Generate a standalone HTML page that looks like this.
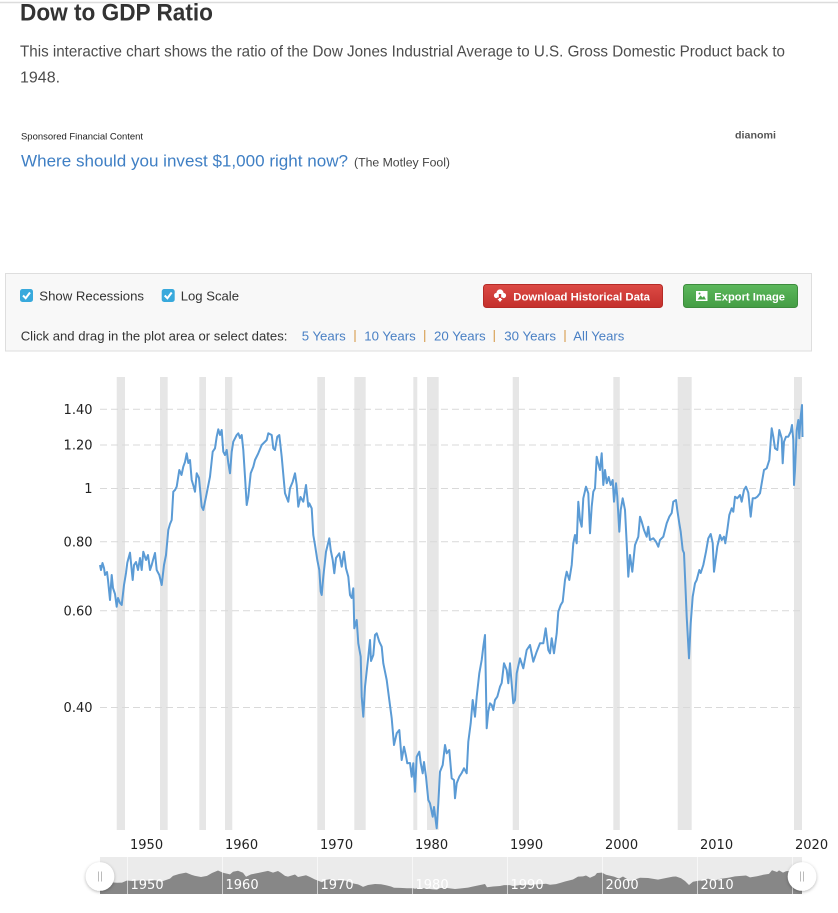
<!DOCTYPE html>
<html><head><meta charset="utf-8"><style>
html,body{margin:0;padding:0;background:#fff;}
svg{display:block;}
text{font-family:"Liberation Sans",Arial,sans-serif;}
.ax text{font-family:"DejaVu Sans",Verdana,sans-serif;font-size:13px;fill:#222;}
.nav text{font-family:"DejaVu Sans",Verdana,sans-serif;font-size:13px;fill:#fff;}
</style></head><body>
<svg width="838" height="913" viewBox="0 0 838 913" xmlns="http://www.w3.org/2000/svg">
<defs>
<linearGradient id="gr" x1="0" y1="0" x2="0" y2="1"><stop offset="0" stop-color="#dc4a45"/><stop offset="1" stop-color="#c4302c"/></linearGradient>
<linearGradient id="gg" x1="0" y1="0" x2="0" y2="1"><stop offset="0" stop-color="#5cb85c"/><stop offset="1" stop-color="#449d44"/></linearGradient>
<filter id="sh" x="-50%" y="-50%" width="200%" height="200%"><feDropShadow dx="0" dy="1" stdDeviation="1.5" flood-color="#000" flood-opacity="0.3"/></filter>
</defs>
<rect x="0" y="0" width="838" height="913" fill="#fff"/>
<line x1="0" y1="2.5" x2="838" y2="2.5" stroke="#dcdcdc" stroke-width="1.5"/>
<text x="20" y="20.7" font-size="24.5" font-weight="bold" fill="#333" textLength="193" lengthAdjust="spacingAndGlyphs">Dow to GDP Ratio</text>
<text x="20" y="56.7" font-size="16" fill="#4d4d4d" textLength="765" lengthAdjust="spacingAndGlyphs">This interactive chart shows the ratio of the Dow Jones Industrial Average to U.S. Gross Domestic Product back to</text>
<text x="20" y="82.3" font-size="16" fill="#4d4d4d">1948.</text>
<text x="21" y="139.5" font-size="9.4" fill="#222" textLength="122" lengthAdjust="spacingAndGlyphs">Sponsored Financial Content</text>
<text x="735" y="138.5" font-size="10.5" font-weight="bold" fill="#555" textLength="41" lengthAdjust="spacingAndGlyphs">dianomi</text>
<text x="21" y="166.5" font-size="17" fill="#3f7fc4" textLength="327" lengthAdjust="spacingAndGlyphs">Where should you invest $1,000 right now?</text>
<text x="354" y="166.5" font-size="12.2" fill="#444" textLength="96" lengthAdjust="spacingAndGlyphs">(The Motley Fool)</text>

<!-- controls -->
<rect x="5.5" y="273.5" width="806" height="77.5" fill="#f8f8f8" stroke="#dedede"/>
<rect x="20" y="289" width="13" height="13" rx="2.5" fill="#38a9dc"/>
<polyline points="23,295.5 25.7,298.2 30,292.5" fill="none" stroke="#fff" stroke-width="2"/>
<text x="39.3" y="300.5" font-size="13.2" fill="#333" textLength="104.7" lengthAdjust="spacingAndGlyphs">Show Recessions</text>
<rect x="161.7" y="289" width="13" height="13" rx="2.5" fill="#38a9dc"/>
<polyline points="164.7,295.5 167.4,298.2 171.7,292.5" fill="none" stroke="#fff" stroke-width="2"/>
<text x="180.7" y="300.5" font-size="13.2" fill="#333" textLength="58.3" lengthAdjust="spacingAndGlyphs">Log Scale</text>
<rect x="483.5" y="284.5" width="179" height="23" rx="3" fill="url(#gr)" stroke="#b52b27"/>
<circle cx="500" cy="293" r="3.6" fill="#fff"/><circle cx="496.5" cy="295.5" r="2.6" fill="#fff"/><circle cx="503.5" cy="295.5" r="2.6" fill="#fff"/>
<rect x="496.5" y="294" width="7" height="4" fill="#fff"/>
<polygon points="498.8,294 501.2,294 501.2,297.5 503,297.5 500,301.5 497,297.5 498.8,297.5" fill="#d03a36"/>
<polygon points="498.9,298 501.1,298 501.1,299 502.5,299 500,302 497.5,299 498.9,299" fill="#fff"/>
<text x="513.3" y="300.3" font-size="11.3" font-weight="bold" fill="#fff" textLength="136.7" lengthAdjust="spacingAndGlyphs">Download Historical Data</text>
<rect x="683.5" y="284.5" width="114" height="23" rx="3" fill="url(#gg)" stroke="#3d8b3d"/>
<rect x="696" y="291" width="11.5" height="10" fill="#fff"/>
<polygon points="697.5,299.5 700.5,295.5 702.5,297.5 704,296 706,299.5" fill="#4aa64a"/>
<circle cx="699.5" cy="293.5" r="1" fill="#4aa64a"/>
<text x="714.3" y="300.3" font-size="11.3" font-weight="bold" fill="#fff" textLength="70.7" lengthAdjust="spacingAndGlyphs">Export Image</text>
<text x="20.7" y="340.5" font-size="13.2" fill="#333" textLength="266.7" lengthAdjust="spacingAndGlyphs">Click and drag in the plot area or select dates:</text>
<g font-size="13.2" fill="#4a80c4">
<text x="301.7" y="340.5" textLength="44" lengthAdjust="spacingAndGlyphs">5 Years</text>
<text x="364.3" y="340.5" textLength="51.4" lengthAdjust="spacingAndGlyphs">10 Years</text>
<text x="434" y="340.5" textLength="51.7" lengthAdjust="spacingAndGlyphs">20 Years</text>
<text x="504.3" y="340.5" textLength="51.7" lengthAdjust="spacingAndGlyphs">30 Years</text>
<text x="573.3" y="340.5" textLength="51" lengthAdjust="spacingAndGlyphs">All Years</text>
</g>
<g stroke="#d9a35a" stroke-width="1.2">
<line x1="355" y1="330" x2="355" y2="342"/><line x1="424.7" y1="330" x2="424.7" y2="342"/><line x1="494.3" y1="330" x2="494.3" y2="342"/><line x1="565" y1="330" x2="565" y2="342"/>
</g>

<!-- recession bands -->
<g fill="#e6e6e6">
<rect x="116.7" y="377" width="8.3" height="453"/>
<rect x="160" y="377" width="7.7" height="453"/>
<rect x="199.3" y="377" width="6.7" height="453"/>
<rect x="225" y="377" width="7.3" height="453"/>
<rect x="317.3" y="377" width="7.7" height="453"/>
<rect x="354.3" y="377" width="11.4" height="453"/>
<rect x="413.3" y="377" width="4" height="453"/>
<rect x="427" y="377" width="11.7" height="453"/>
<rect x="512.7" y="377" width="6.3" height="453"/>
<rect x="613.3" y="377" width="6.5" height="453"/>
<rect x="677.7" y="377" width="14" height="453"/>
<rect x="794" y="377" width="8" height="453"/>
</g>
<!-- grid -->
<g stroke="#d9d9d9" stroke-width="1" stroke-dasharray="7,4">
<line x1="100" y1="409.3" x2="802" y2="409.3"/>
<line x1="100" y1="445" x2="802" y2="445"/>
<line x1="100" y1="488.5" x2="802" y2="488.5"/>
<line x1="100" y1="541.7" x2="802" y2="541.7"/>
<line x1="100" y1="610.7" x2="802" y2="610.7"/>
<line x1="100" y1="707.5" x2="802" y2="707.5"/>
</g>
<g class="ax" text-anchor="end">
<text x="92.5" y="414">1.40</text>
<text x="92.5" y="449.7">1.20</text>
<text x="92.5" y="493.2">1</text>
<text x="92.5" y="546.4">0.80</text>
<text x="92.5" y="615.4">0.60</text>
<text x="92.5" y="712.2">0.40</text>
</g>
<g class="ax">
<text x="130" y="849">1950</text>
<text x="225" y="849">1960</text>
<text x="320" y="849">1970</text>
<text x="415" y="849">1980</text>
<text x="510" y="849">1990</text>
<text x="605" y="849">2000</text>
<text x="700" y="849">2010</text>
<text x="795" y="849">2020</text>
</g>
<!-- series -->
<polyline fill="none" stroke="#5b9bd5" stroke-width="2" stroke-linejoin="round" points="100,565 101,570 102.5,563 104,568 105,575 107,572 108,580 110,600 111.7,575 113,588 115,594 116.7,606.7 118,598 120,603 121.7,605 124,585 126,573 127.3,562.7 130,552.7 131.5,568 132.7,580 134,565 136,562 138,570 140,558 141.7,570 143.3,551.7 146,560 148,555 150,570 151.7,565 153,560 155,553 156.7,570 159.3,575 161.7,585 164,565 166,555 168.3,530 170,524 171.7,520 173.3,491.7 175,490 176.7,486.7 179.3,470 181.5,475 183.3,466.7 185,462 186.7,453.3 188.3,463 190,460 191.7,480 193.5,486 195,491.7 196.7,473.3 199,478 201.7,506.7 203.3,510 206.7,493.3 210,476.7 212.7,451.7 215,448.3 216.7,436.7 218.3,429.3 220,435 221.7,430 223.3,451.7 225,455 226.7,450 228.3,463 230,473.3 231.7,451.7 233.3,441.7 236.7,435 238.3,433.3 240,438 241.7,435 243.3,450 245,476.7 246.7,505 248.3,496.7 250.7,473.3 253.3,466.7 255,460 258.3,453.3 261.7,445 266.7,440 268.3,433.3 271.7,435 273.3,448.3 275,450 277.3,436.7 279.3,435 281.7,456.7 285,493.3 288.3,501.7 290,488.3 292.7,481.7 295,473.3 296.7,485 298.3,506.7 300.5,497 303.3,501.7 306,485 308.3,506.7 309.3,503.3 311.7,508.3 313.3,535 315,545 317.3,560 319.3,570 320.7,591.7 321.7,595 323.3,576.7 326,551.7 329.3,538.3 330.7,550 332.7,560 334.3,573.3 336,558 339.3,553.3 341.7,566.7 344,551.7 346,568.3 348.3,576.7 350,595 351.7,598 353.3,588.3 354.3,628.3 356.7,620 358.3,643.3 360.7,656.7 361.7,696.7 363.3,716.7 365,686.7 368.3,656.7 370,640 371,661 373.3,655 375,635 376.7,633.3 379.3,641.7 381.7,646.7 383.3,663.3 386.7,680 389.3,700 391.7,718.3 394,745 396.7,733.3 399.3,730 401.7,760 404,746.7 406,756 407.3,763.3 410,763 411.7,776.7 413.3,763.3 415,791.7 416.7,756.7 419.3,751.7 420.7,763 422.7,773.3 424,762 426,776.7 428.3,800 430,803.3 432.7,816.7 434,807 436.7,828.3 438.3,803.3 440,771.7 442.7,765 445,745 446.7,753.3 449.3,750 451.7,778.3 454,780 455,798.3 456.7,783.3 459.3,776.7 461.7,773 464,768.3 466.7,773.3 468.3,741.7 470.7,723.3 472.7,700 475,716.7 476.7,696.7 479.3,673.3 481.7,660 483.3,646.7 485,635 486.7,728.3 488.3,711.7 490,703.3 491.7,705 493.3,710 495,700 497.3,696.7 500,686.7 501.7,683 504,663.3 506.7,670 508.3,683.3 510,663.3 513.3,703.3 515,700 516.7,673.3 520,658.3 523.3,668.3 526.7,650 530,645 533.3,661.7 536.7,651.7 540,643.3 543.3,643.3 545.7,628.3 548.3,650 550,653.3 551.7,638.3 554,653.3 556.7,633.3 558.3,611.7 560.7,605 562.7,601.7 565,580 566.7,571.7 569.3,580 571.7,565 573.3,543.3 575,535 576.7,543.3 578.3,501.7 580,520 581.7,526.7 583.3,498.3 586,486.7 588.3,493.3 590,533.3 591.7,506.7 593.3,491.7 595,488.3 596.7,456.7 598.3,463.3 600,470 601.7,453.3 603.3,485 605,470 606.7,483.3 608.7,477 610.7,485 612.7,480 614,501.7 616,483.3 617.3,496.7 619.3,531.7 620.7,510 622.7,498.3 625,510 626.7,543.3 628.3,576.7 630,555 632.3,571.7 635,545 638.3,536.7 640,516.7 641.7,521.7 644,530 646.7,536.7 648.3,526.7 650,540 653.3,538.3 656,541.7 658.3,546.7 660,540 663.3,536.7 666.7,523.3 669.3,516.7 671.7,513 673.3,501.7 676,500 677.3,510 679.3,523.3 680.7,531.7 682.7,550 684,553 685.3,583.3 686.7,616.7 689,658.3 690.7,623.3 692.7,596.7 695,583.3 696.7,580 699.3,570 700.7,573 703.3,565 706,551.7 708.3,538.3 710.7,534 712.7,543 714,571.7 716,556.7 717.3,546.7 720,535 721.7,540 724,536.7 725.3,543.3 727.3,530 729.3,515 731.7,508.3 733.3,511.7 735,496.7 737.3,498.3 740,495 741.7,501.7 744,490 746,486.7 748.3,492.7 750.7,516.7 752.7,498.3 755,498.3 757.3,496.7 760,493.3 761.7,483.3 764,470 766.7,468.3 769.3,460 771.7,428.3 773.3,436.7 775,448.3 777.3,450 779.3,430 781.7,438.3 782.7,463.3 784,441.7 786,436.7 788.3,436.7 790.7,431.7 792,425 793.3,440 794,485 795,470 796.7,430 798.3,420 799.3,438.3 800.7,416.7 802,405 802.5,437"/>

<!-- navigator -->
<rect x="100" y="857" width="702" height="37" fill="#ebebeb"/>
<path fill="#878787" d="M100,894 L100,880.6 105,881.3 110,882.2 117,882.8 122,882.6 127,880.5 132,881 140,880.4 150,880.8 155,880.2 161,881.7 166,880 170,878.6 173,875.9 179,874 186,872.6 192,875 195,875.9 201,877 207,875.9 212,873 218,870.5 223,872.8 230,874.4 233,871.8 238,870.8 243,872.8 246,876.7 251,874.4 258,873 268,870.9 273,872.6 278,871 281,872.9 285,875.9 288,876.6 295,874.5 298,877 306,875.3 310,877 315,879.5 317,880.3 322,882.2 326,879.9 330,879.2 334,880.9 340,880 346,880.7 350,882.2 354,883.6 358,884.4 361,885.8 363,886.9 368,885 375,884 381,884.3 386,885.3 391,886.5 394,887.7 400,887.9 407,888.3 413,888.2 415,888.8 419,887.9 428,888.8 432,889.2 437,889.6 440,888.1 445,887.7 452,888.6 455,889 460,888.5 468,887.6 473,886.5 479,885.3 485,884 487,887.2 493,886.5 500,886 504,885.1 510,885.1 513,886.1 520,885 530,884.6 540,884.3 546,883.8 550,884.8 556,884.1 560,883 565,881.5 573,879.5 578,876.6 583,876.4 586,875.5 590,877.8 595,875.5 597,873 602,872.6 606,874.8 614,876.6 619,878.6 623,876.5 627,879 628,881.3 632,880.5 640,877.7 648,878 658,879.6 666,878 673,876.6 676,876.5 681,878.2 685,881 689,885 693,881.7 699,880.6 703,880.6 708,878.6 714,880.7 720,878.9 729,877.6 735,876.4 746,875.5 750,877.4 757,876.2 764,874.6 769,873.9 772,870.3 777,872 779,870.4 783,872.6 786,871.2 792,870.5 794,875.3 796,871 800,869.5 802,867.9 L802,894 Z"/>
<g stroke="rgba(255,255,255,0.6)" stroke-width="1">
<line x1="127.5" y1="857" x2="127.5" y2="894"/><line x1="222.5" y1="857" x2="222.5" y2="894"/><line x1="317.5" y1="857" x2="317.5" y2="894"/><line x1="412.5" y1="857" x2="412.5" y2="894"/><line x1="507.5" y1="857" x2="507.5" y2="894"/><line x1="602.5" y1="857" x2="602.5" y2="894"/><line x1="697.5" y1="857" x2="697.5" y2="894"/><line x1="792.5" y1="857" x2="792.5" y2="894"/>
</g>
<g class="nav">
<text x="130.5" y="889">1950</text>
<text x="225.5" y="889">1960</text>
<text x="320.5" y="889">1970</text>
<text x="415.5" y="889">1980</text>
<text x="510.5" y="889">1990</text>
<text x="605.5" y="889">2000</text>
<text x="700.5" y="889">2010</text>
</g>
<circle cx="100" cy="876.5" r="14.3" fill="#fff" filter="url(#sh)"/>
<line x1="98.5" y1="871.5" x2="98.5" y2="881.5" stroke="#bbb" stroke-width="1"/>
<line x1="101.5" y1="871.5" x2="101.5" y2="881.5" stroke="#bbb" stroke-width="1"/>
<circle cx="802" cy="876.5" r="14.3" fill="#fff" filter="url(#sh)"/>
<line x1="800.5" y1="871.5" x2="800.5" y2="881.5" stroke="#bbb" stroke-width="1"/>
<line x1="803.5" y1="871.5" x2="803.5" y2="881.5" stroke="#bbb" stroke-width="1"/>
</svg>
</body></html>
